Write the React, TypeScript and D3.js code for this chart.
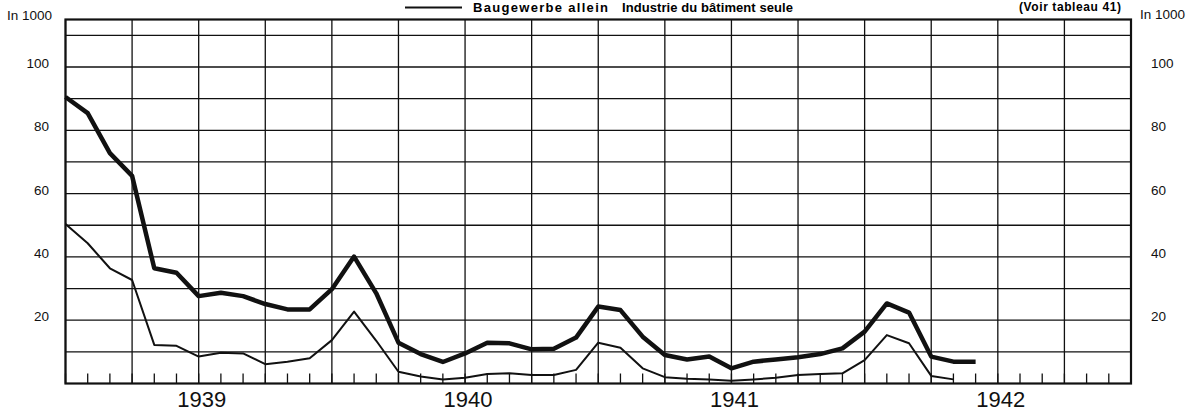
import * as d3 from "d3";

// monthly values, Jan 1939 onwards (in 1000)
const gesamt = [
  90.5, 85.4, 72.8, 65.6, 36.4, 35.0, 27.6, 28.7, 27.6, 25.1, 23.4, 23.4,
  29.8, 40.1, 28.5, 12.9, 9.3, 6.8, 9.5, 12.9, 12.7, 10.8, 11.0, 14.5,
  24.3, 23.2, 14.8, 9.0, 7.6, 8.5, 4.8, 6.9, 7.6, 8.3, 9.3, 11.1,
  16.4, 25.3, 22.4, 8.5, 6.9, 6.9,
];
const baugewerbe = [
  50.4, 44.3, 36.4, 32.7, 12.2, 11.9, 8.5, 9.7, 9.5, 6.1, 6.9, 8.0,
  13.7, 22.7, 13.5, 3.7, 2.2, 1.3, 1.8, 3.0, 3.2, 2.7, 2.7, 4.3,
  12.9, 11.3, 4.8, 2.0, 1.5, 1.3, 0.9, 1.3, 1.8, 2.7, 3.0, 3.2,
  7.4, 15.3, 12.7, 2.4, 1.3,
];
const years = ["1939", "1940", "1941", "1942"];
const yLabels = [20, 40, 60, 80, 100];
const yGrid = [10, 20, 30, 40, 50, 60, 70, 80, 90, 100, 110];

const W = 1197;
const H = 414;
const font = "'Liberation Sans', Arial, Helvetica, sans-serif";

export default function App() {
  const nMonths = years.length * 12;
  const x = d3.scaleLinear().domain([0, nMonths]).range([65.5, 1131]);
  const y = d3.scaleLinear().domain([0, 115]).range([383.5, 19.5]);

  const line = d3
    .line<number>()
    .x((_, i) => x(i))
    .y((d) => y(d));

  const quarters = d3.range(0, nMonths + 1, 3);
  const months = d3.range(0, nMonths + 1);

  return (
    <svg
      width={W}
      height={H}
      style={{ position: "absolute", left: 0, top: 0, background: "#fff" }}
      fontFamily={font}
    >
      {/* legend */}
      <line x1={405} x2={462} y1={7.5} y2={7.5} stroke="#111" strokeWidth={2} />
      <text x={473} y={12} fontSize={13} fontWeight="bold" textLength={135} lengthAdjust="spacing">
        Baugewerbe allein
      </text>
      <text x={622} y={12} fontSize={13} fontWeight="bold" textLength={171} lengthAdjust="spacing">
        Industrie du bâtiment seule
      </text>
      <text x={1019} y={11} fontSize={12} fontWeight="bold" textLength={102} lengthAdjust="spacing">
        (Voir tableau 41)
      </text>

      {/* grid */}
      <g stroke="#111" strokeWidth={1.3}>
        {yGrid.map((v) => (
          <line key={"h" + v} x1={x(0)} x2={x(nMonths)} y1={y(v)} y2={y(v)} />
        ))}
        {quarters.map((m) => (
          <line key={"v" + m} x1={x(m)} x2={x(m)} y1={y(115)} y2={y(0)} />
        ))}
        {months.map((m) => (
          <line key={"t" + m} x1={x(m)} x2={x(m)} y1={y(0) - 10} y2={y(0)} />
        ))}
      </g>
      <rect
        x={x(0)}
        y={y(115)}
        width={x(nMonths) - x(0)}
        height={y(0) - y(115)}
        fill="none"
        stroke="#111"
        strokeWidth={2.2}
      />

      {/* y labels */}
      <g fontSize={13.5} fill="#111">
        <text x={52} y={20} textAnchor="end">In 1000</text>
        <text x={1140} y={19}>In 1000</text>
        {yLabels.map((v) => (
          <g key={v}>
            <text x={49} y={y(v) + 1} textAnchor="end">{v}</text>
            <text x={1151} y={y(v) + 1}>{v}</text>
          </g>
        ))}
      </g>

      {/* year labels */}
      {years.map((yr, i) => (
        <text
          key={yr}
          x={x(i * 12 + 6) + 3}
          y={407}
          fontSize={22}
          textAnchor="middle"
          fill="#111"
        >
          {yr}
        </text>
      ))}

      {/* series */}
      <path
        d={line(baugewerbe) ?? ""}
        fill="none"
        stroke="#111"
        strokeWidth={2}
        strokeLinejoin="round"
      />
      <path
        d={line(gesamt) ?? ""}
        fill="none"
        stroke="#111"
        strokeWidth={4.5}
        strokeLinejoin="round"
      />
    </svg>
  );
}
